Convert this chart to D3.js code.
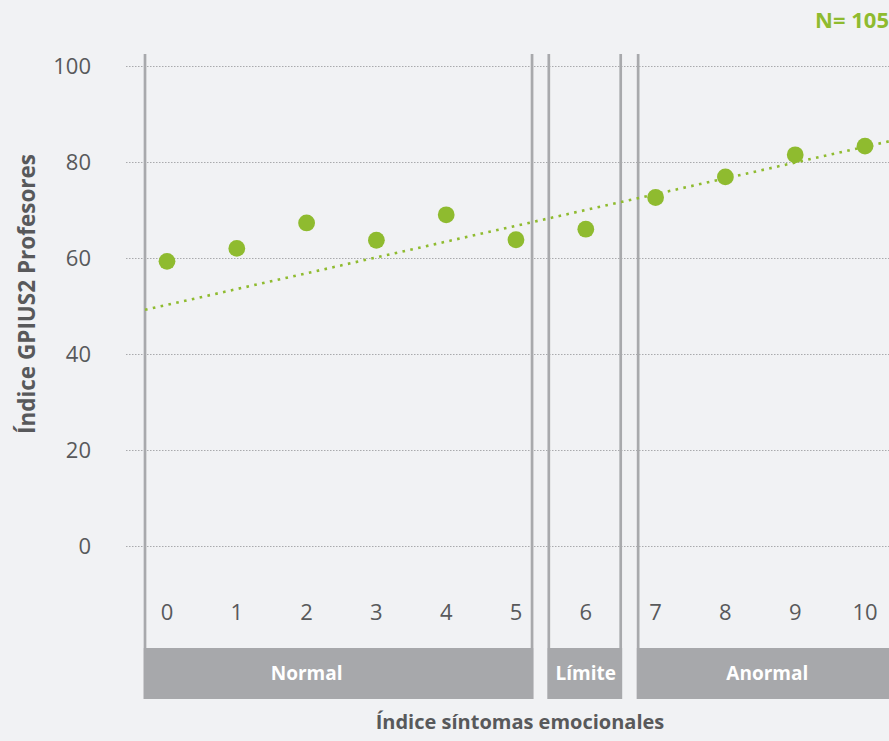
<!DOCTYPE html>
<html>
<head>
<meta charset="utf-8">
<script src="https://cdn.jsdelivr.net/npm/d3@7"></script>
<style>
  html, body { margin: 0; padding: 0; background: #f1f2f4; }
  svg { display: block; font-family: "Open Sans", sans-serif; }
</style>
</head>
<body>
<svg id="chart" width="889" height="741"></svg>
<script>
// ---- data ----
const categories = [0, 1, 2, 3, 4, 5, 6, 7, 8, 9, 10];
const values = [59.3, 62.0, 67.3, 63.7, 69.0, 63.8, 66.0, 72.6, 76.9, 81.5, 83.3];
const yTicks = [0, 20, 40, 60, 80, 100];
const groupNames = ["Normal", "Límite", "Anormal"];
const groupStart = [-0.315, 5.47, 6.75];
const groupEnd = [5.23, 6.5, 10.6];
const groupLabelAt = [2, 6, 8.6];
const trendX = [-0.315, 10.34];
const trendY = [49.2, 84.3];
const sampleLabel = "N= 105";
const xTitle = "Índice síntomas emocionales";
const yTitle = "Índice GPIUS2 Profesores";

// ---- layout ----
const W = 889, H = 741;
const green = "#8fbb2f";
const textCol = "#58595b";
const lineCol = "#a8a9ac";
const svg = d3.select("#chart");
svg.append("rect").attr("width", W).attr("height", H).attr("fill", "#f1f2f4");

const x = d3.scaleLinear().domain([0, 10]).range([167, 865]);
const y = d3.scaleLinear().domain([0, 100]).range([546, 66]);
const lineTop = 54, bandTop = 648, bandBottom = 699;

// grid lines
svg.append("g").selectAll("line").data(yTicks).join("line")
  .attr("x1", 126).attr("x2", W)
  .attr("y1", d => y(d) + 0.5).attr("y2", d => y(d) + 0.5)
  .attr("stroke", "#a9aaad").attr("stroke-width", 1)
  .attr("stroke-dasharray", "1.5,1.5");

// y tick labels
svg.append("g").selectAll("text").data(yTicks).join("text")
  .attr("x", 91).attr("y", d => y(d)).attr("dy", "0.36em")
  .attr("text-anchor", "end").attr("fill", textCol)
  .attr("font-size", 22).text(d => d);

// group bands and vertical lines
const groups = groupNames.map((n, i) => ({ name: n, s: groupStart[i], e: groupEnd[i], at: groupLabelAt[i] }));
const gg = svg.append("g");
gg.selectAll("rect").data(groups).join("rect")
  .attr("x", d => x(d.s) - 1.5)
  .attr("width", d => x(d.e) - x(d.s) + 3)
  .attr("y", bandTop).attr("height", bandBottom - bandTop)
  .attr("fill", "#a7a8ab");
const edges = [];
groups.forEach(g => { edges.push(g.s); if (x(g.e) < W) edges.push(g.e); });
gg.selectAll("line").data(edges).join("line")
  .attr("x1", d => x(d)).attr("x2", d => x(d))
  .attr("y1", lineTop).attr("y2", bandTop)
  .attr("stroke", lineCol).attr("stroke-width", 2.7);
gg.selectAll("text").data(groups).join("text")
  .attr("x", d => x(d.at))
  .attr("y", (bandTop + bandBottom) / 2).attr("dy", "0.36em")
  .attr("text-anchor", "middle").attr("fill", "#ffffff")
  .attr("font-size", 19).attr("font-weight", "bold")
  .text(d => d.name);

// x tick labels
svg.append("g").selectAll("text").data(categories).join("text")
  .attr("x", d => x(d)).attr("y", 612).attr("dy", "0.36em")
  .attr("text-anchor", "middle").attr("fill", textCol)
  .attr("font-size", 22).text(d => d);

// trend line
svg.append("path")
  .datum(trendX.map((v, i) => [v, trendY[i]]))
  .attr("d", d3.line().x(d => x(d[0])).y(d => y(d[1])))
  .attr("fill", "none").attr("stroke", green)
  .attr("stroke-width", 2.6).attr("stroke-dasharray", "2.6,5.4");

// points
svg.append("g").selectAll("circle").data(categories).join("circle")
  .attr("cx", d => x(d)).attr("cy", (d, i) => y(values[i]))
  .attr("r", 8.4).attr("fill", green);

// titles
svg.append("text").attr("x", 889).attr("y", 28)
  .attr("text-anchor", "end").attr("fill", green)
  .attr("font-size", 22).attr("font-weight", "bold").text(sampleLabel);

svg.append("text").attr("x", 520).attr("y", 729)
  .attr("text-anchor", "middle").attr("fill", textCol)
  .attr("font-size", 20).attr("font-weight", "bold").text(xTitle);

svg.append("text")
  .attr("transform", "translate(35,294) rotate(-90)")
  .attr("text-anchor", "middle").attr("fill", textCol)
  .attr("font-size", 22.5).attr("font-weight", "bold").text(yTitle);
</script>
</body>
</html>
